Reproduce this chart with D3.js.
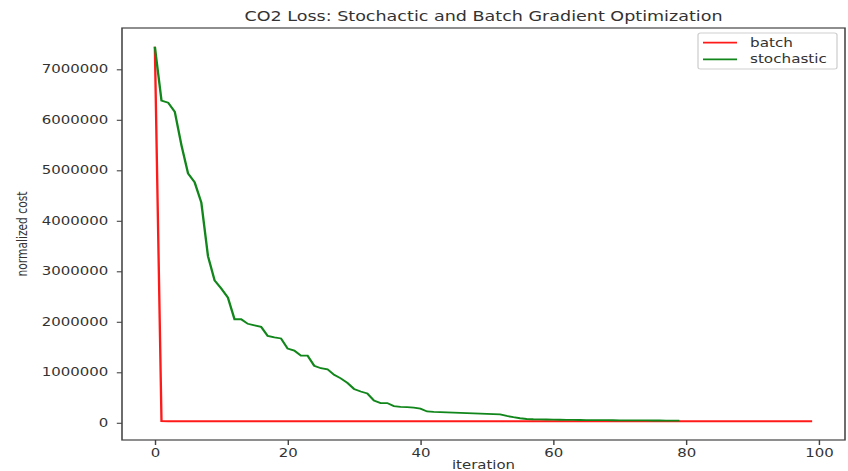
<!DOCTYPE html>
<html>
<head>
<meta charset="utf-8">
<script src="https://cdn.jsdelivr.net/npm/d3@7"></script>
<style>
  body { margin: 0; background: #fff; }
  text { font-family: "DejaVu Sans", sans-serif; fill: #333; }
</style>
</head>
<body>
<div id="chart"></div>
<script>
// loss per iteration
const batchIter = d3.range(0, 100);
const batchCost = [
  7447000, 31000, 30900, 30800, 30700, 30600, 30500, 30400, 30300, 30200,
  30100, 30000, 30000, 30000, 30000, 30000, 30000, 30000, 30000, 30000,
  30000, 30000, 30000, 30000, 30000, 30000, 30000, 30000, 30000, 30000,
  30000, 30000, 30000, 30000, 30000, 30000, 30000, 30000, 30000, 30000,
  30000, 30000, 30000, 30000, 30000, 30000, 30000, 30000, 30000, 30000,
  30000, 30000, 30000, 30000, 30000, 30000, 30000, 30000, 30000, 30000,
  30000, 30000, 30000, 30000, 30000, 30000, 30000, 30000, 30000, 30000,
  30000, 30000, 30000, 30000, 30000, 30000, 30000, 30000, 30000, 30000,
  30000, 30000, 30000, 30000, 30000, 30000, 30000, 30000, 30000, 30000,
  30000, 30000, 30000, 30000, 30000, 30000, 30000, 30000, 30000, 30000
];

const stochIter = d3.range(0, 80);
const stochCost = [
  7447000, 6380000, 6340000, 6160000, 5500000, 4940000, 4760000, 4360000, 3300000, 2820000,
  2660000, 2480000, 2050000, 2050000, 1960000, 1930000, 1900000, 1720000, 1690000, 1670000,
  1470000, 1430000, 1330000, 1330000, 1130000, 1080000, 1060000, 950000, 880000, 790000,
  670000, 620000, 580000, 440000, 390000, 390000, 330000, 315000, 310000, 300000,
  280000, 225000, 215000, 210000, 205000, 200000, 195000, 190000, 185000, 180000,
  175000, 170000, 165000, 135000, 110000, 90000, 75000, 70000, 68000, 65000,
  62000, 60000, 58000, 56000, 55000, 54000, 53000, 52000, 51000, 50000,
  49000, 48000, 47000, 46000, 46000, 45000, 45000, 44000, 44000, 43000
];

const xTicks = [0, 20, 40, 60, 80, 100];
const yTicks = [0, 1000000, 2000000, 3000000, 4000000, 5000000, 6000000, 7000000];

// the reference is stretched sideways, so draw in a narrower box and stretch it
const stretch = 1.3;
const W = 848, H = 471;
const iw = W / stretch;
const margin = {left: 122 / stretch, right: 845 / stretch, top: 28, bottom: 440};

const svg = d3.select("#chart")
    .append("svg")
    .attr("width", W)
    .attr("height", H)
    .attr("viewBox", `0 0 ${iw} ${H}`)
    .attr("preserveAspectRatio", "none");

// matplotlib style 5% margins
const xPad = 0.05 * (d3.max(batchIter) - 0);
const x = d3.scaleLinear()
    .domain([0 - xPad, d3.max(batchIter) + xPad])
    .range([margin.left, margin.right]);

const allCost = batchCost.concat(stochCost);
const [yMin, yMax] = d3.extent(allCost);
const yPad = 0.05 * (yMax - yMin);
const y = d3.scaleLinear()
    .domain([yMin - yPad, yMax + yPad])
    .range([margin.bottom, margin.top]);

const line = d3.line()
    .x(d => x(d[0]))
    .y(d => y(d[1]));

svg.append("path")
    .datum(batchIter.map((d, i) => [d, batchCost[i]]))
    .attr("d", line)
    .attr("fill", "none")
    .attr("stroke", "#ff1a1a")
    .attr("stroke-width", 1.8);

svg.append("path")
    .datum(stochIter.map((d, i) => [d, stochCost[i]]))
    .attr("d", line)
    .attr("fill", "none")
    .attr("stroke", "#11861a")
    .attr("stroke-width", 1.8);

/* X axis */
const xAxis = svg.append("g")
    .attr("transform", `translate(0,${margin.bottom})`)
    .call(d3.axisBottom(x).tickValues(xTicks).tickSize(5).tickPadding(3.5).tickSizeOuter(0));

/* Y axis */
const yAxis = svg.append("g")
    .attr("transform", `translate(${margin.left},0)`)
    .call(d3.axisLeft(y).tickValues(yTicks).tickFormat(d3.format("d")).tickSize(4).tickPadding(6.5).tickSizeOuter(0));

[xAxis, yAxis].forEach(g => {
    g.select(".domain").remove();
    g.selectAll(".tick line").attr("stroke", "#444").attr("stroke-width", 1.1);
    g.selectAll(".tick text").style("font-size", "11.5px").attr("fill", "#333");
});

// frame
svg.append("rect")
    .attr("x", margin.left)
    .attr("y", margin.top)
    .attr("width", margin.right - margin.left)
    .attr("height", margin.bottom - margin.top)
    .attr("fill", "none")
    .attr("stroke", "#444")
    .attr("stroke-width", 1.2);

// Titles and labels
svg.append("text")
    .attr("x", (margin.left + margin.right) / 2)
    .attr("y", 21.5)
    .attr("text-anchor", "middle")
    .style("font-size", "13.5px")
    .text("CO2 Loss: Stochactic and Batch Gradient Optimization");

svg.append("text")
    .attr("x", (margin.left + margin.right) / 2)
    .attr("y", 469)
    .attr("text-anchor", "middle")
    .style("font-size", "11.5px")
    .text("iteration");

svg.append("text")
    .attr("transform", `translate(${27 / stretch},${(margin.top + margin.bottom) / 2}) rotate(-90)`)
    .attr("text-anchor", "middle")
    .style("font-size", "10.7px")
    .text("normalized cost");

// legend
const legend = svg.append("g");
legend.append("rect")
    .attr("x", 698 / stretch)
    .attr("y", 33)
    .attr("width", (837 - 698) / stretch)
    .attr("height", 36)
    .attr("rx", 2)
    .attr("fill", "#fff")
    .attr("stroke", "#d0d0d0")
    .attr("stroke-width", 1);

const legendItems = [
    {name: "batch", color: "#ff1a1a"},
    {name: "stochastic", color: "#11861a"}
];
legendItems.forEach((item, i) => {
    const ly = 42.7 + i * 16.6;
    legend.append("line")
        .attr("x1", 703 / stretch)
        .attr("x2", 737 / stretch)
        .attr("y1", ly)
        .attr("y2", ly)
        .attr("stroke", item.color)
        .attr("stroke-width", 1.8);
    legend.append("text")
        .attr("x", 750 / stretch)
        .attr("y", ly + 4)
        .style("font-size", "11.7px")
        .text(item.name);
});
</script>
</body>
</html>
